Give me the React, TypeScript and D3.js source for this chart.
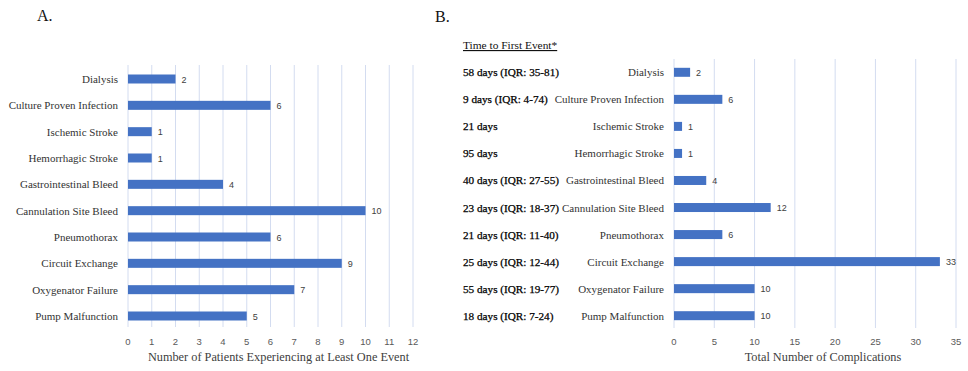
import React from "react";
import * as d3 from "d3";

const categories = [
  "Dialysis",
  "Culture Proven Infection",
  "Ischemic Stroke",
  "Hemorrhagic Stroke",
  "Gastrointestinal Bleed",
  "Cannulation Site Bleed",
  "Pneumothorax",
  "Circuit Exchange",
  "Oxygenator Failure",
  "Pump Malfunction",
];
const patientsWithEvent = [2, 6, 1, 1, 4, 10, 6, 9, 7, 5];
const totalComplications = [2, 6, 1, 1, 4, 12, 6, 33, 10, 10];
const timeToFirstEvent = [
  "58 days (IQR: 35-81)",
  "9 days (IQR: 4-74)",
  "21 days",
  "95 days",
  "40 days (IQR: 27-55)",
  "23 days (IQR: 18-37)",
  "21 days (IQR: 11-40)",
  "25 days (IQR: 12-44)",
  "55 days (IQR: 19-77)",
  "18 days (IQR: 7-24)",
];
const ticksA = d3.range(0, 13, 1);
const ticksB = d3.range(0, 36, 5);

const BAR = "#4472C4";
const GRID = "#d3dcf0";
const SERIF = "'Liberation Serif', serif";
const SANS = "'Liberation Sans', Arial, sans-serif";

type PanelProps = {
  values: number[];
  ticks: number[];
  xMax: number;
  xRange: [number, number];
  yRange: [number, number];
  gridTop: number;
  gridBottom: number;
  title: string;
  barH: number;
};

const Panel = ({ values, ticks, xMax, xRange, yRange, gridTop, gridBottom, title, barH }: PanelProps) => {
  const x = d3.scaleLinear().domain([0, xMax]).range(xRange);
  const y = d3.scalePoint<string>().domain(categories).range(yRange);

  return (
    <g>
      {ticks.map((t) => (
        <line key={"g" + t} x1={x(t)} x2={x(t)} y1={gridTop} y2={gridBottom} stroke={GRID} strokeWidth={1} />
      ))}
      {ticks.map((t) => (
        <text key={"t" + t} x={x(t)} y={345} textAnchor="middle" fontFamily={SANS} fontSize={9.5} fill="#595959">
          {t}
        </text>
      ))}
      {categories.map((c, i) => (
        <g key={c}>
          <rect x={x(0)} y={y(c)! - barH / 2} width={x(values[i]) - x(0)} height={barH} fill={BAR} />
          <text x={x(values[i]) + 6} y={y(c)! + 3.5} fontFamily={SANS} fontSize={9} fill="#404040">
            {values[i]}
          </text>
          <text x={x(0) - 10} y={y(c)! + 4} textAnchor="end" fontFamily={SERIF} fontSize={11} fill="#333">
            {c}
          </text>
        </g>
      ))}
      <text x={(xRange[0] + xRange[1]) / 2 + 8} y={361} textAnchor="middle" fontFamily={SERIF} fontSize={12.3} fill="#404040">
        {title}
      </text>
    </g>
  );
};

export default function App() {
  const yB = d3.scalePoint<string>().domain(categories).range([72.3, 315.7]);
  return (
    <svg width={968} height={371} style={{ position: "absolute", left: 0, top: 0, background: "#fff" }}>
      <text x={37} y={21} fontFamily={SERIF} fontSize={16} fill="#111">A.</text>
      <Panel
        values={patientsWithEvent}
        ticks={ticksA}
        xMax={12}
        xRange={[128, 413]}
        yRange={[79, 316]}
        gridTop={65}
        gridBottom={327}
        title="Number of Patients Experiencing at Least One Event"
        barH={9}
      />
      <text x={435} y={22} fontFamily={SERIF} fontSize={16} fill="#111">B.</text>
      <text x={463} y={49} fontFamily={SERIF} fontSize={11.4} fill="#111" textDecoration="underline">
        Time to First Event*
      </text>
      {timeToFirstEvent.map((t, i) => (
        <text
          key={t + i}
          x={463}
          y={yB(categories[i])! + 4}
          fontFamily={SERIF}
          fontSize={11.2}
          fill="#000"
          stroke="#000"
          strokeWidth={0.25}
        >
          {t}
        </text>
      ))}
      <Panel
        values={totalComplications}
        ticks={ticksB}
        xMax={35}
        xRange={[674, 956]}
        yRange={[72.3, 315.7]}
        gridTop={59}
        gridBottom={328}
        title="Total Number of Complications"
        barH={9}
      />
    </svg>
  );
}
